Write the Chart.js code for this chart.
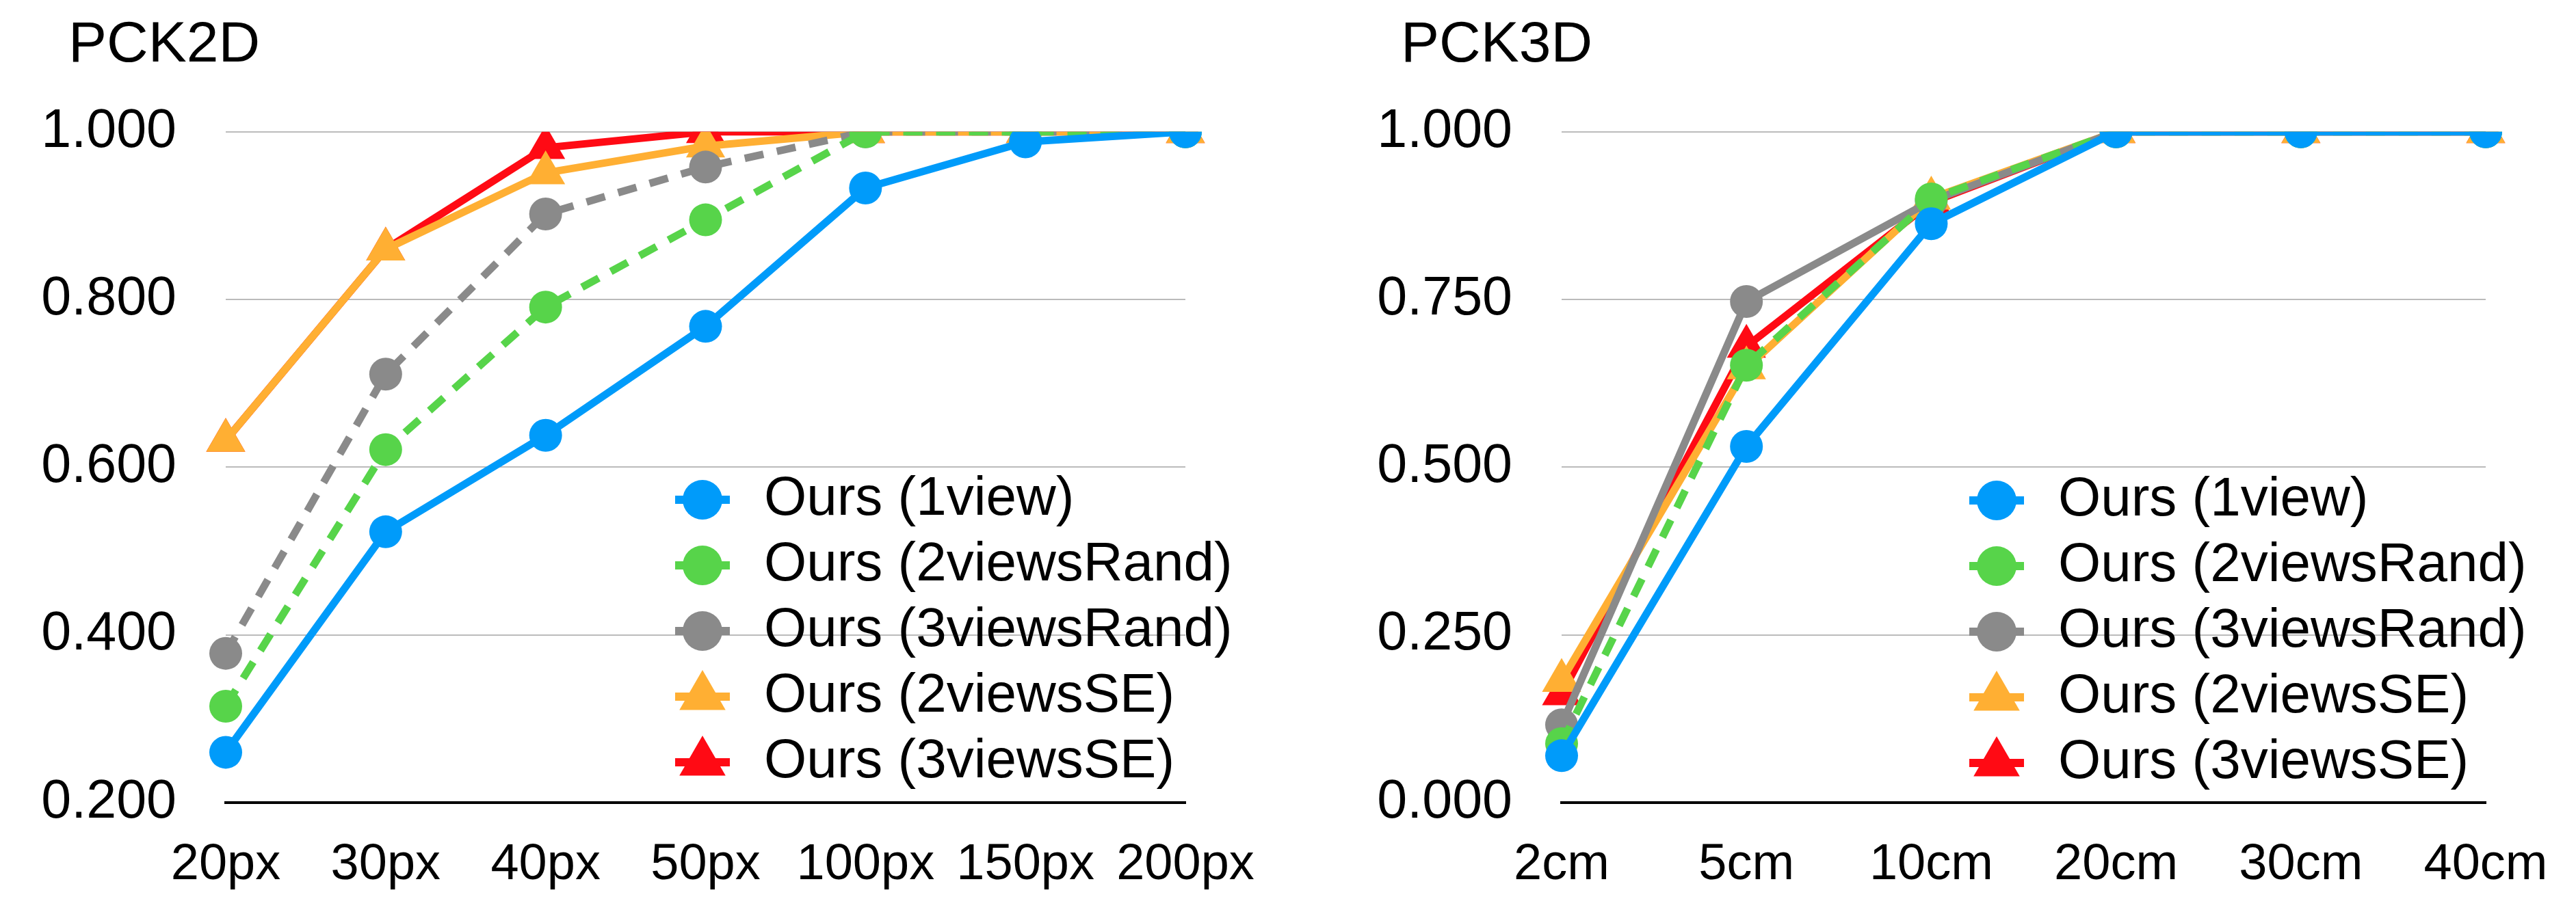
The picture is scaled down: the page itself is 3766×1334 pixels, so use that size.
<!DOCTYPE html>
<html>
<head>
<meta charset="utf-8">
<title>PCK2D / PCK3D</title>
<script src="https://cdn.jsdelivr.net/npm/chart.js@4.4.1/dist/chart.umd.min.js"></script>
<style>
  html, body { margin: 0; padding: 0; background: #fff; }
  #wrap { position: relative; width: 3766px; height: 1334px; }
  canvas { position: absolute; top: 0; }
  #pck2d { left: 0; }
  #pck3d { left: 1880px; }
</style>
</head>
<body>
<div id="wrap">
  <canvas id="pck2d" width="1880" height="1334"></canvas>
  <canvas id="pck3d" width="1886" height="1334"></canvas>
</div>
<script>
// categories
const pxLabels = ['20px', '30px', '40px', '50px', '100px', '150px', '200px'];
const cmLabels = ['2cm', '5cm', '10cm', '20cm', '30cm', '40cm'];

const seriesNames = ['Ours (1view)', 'Ours (2viewsRand)', 'Ours (3viewsRand)', 'Ours (2viewsSE)', 'Ours (3viewsSE)'];

// PCK2D values
const pck2d1view = [0.260, 0.523, 0.638, 0.768, 0.933, 0.988, 1.000];
const pck2d2Rand = [0.315, 0.621, 0.791, 0.895, 1.000, 1.000, 1.000];
const pck2d3Rand = [0.378, 0.711, 0.902, 0.958, 1.000, 1.000, 1.000];
const pck2d2SE   = [0.632, 0.860, 0.951, 0.983, 1.000, 1.000, 1.000];
const pck2d3SE   = [0.632, 0.860, 0.981, 1.000, 1.000, 1.000, 1.000];

// PCK3D values
const pck3d1view = [0.070, 0.531, 0.863, 1.000, 1.000, 1.000];
const pck3d2Rand = [0.088, 0.652, 0.900, 1.000, 1.000, 1.000];
const pck3d3Rand = [0.116, 0.747, 0.897, 1.000, 1.000, 1.000];
const pck3d2SE   = [0.182, 0.648, 0.901, 1.000, 1.000, 1.000];
const pck3d3SE   = [0.162, 0.680, 0.895, 1.000, 1.000, 1.000];

// y tick values
const pck2dTicks = [0.2, 0.4, 0.6, 0.8, 1.0];
const pck3dTicks = [0.0, 0.25, 0.5, 0.75, 1.0];

// look of each series
const seriesColors = ['#009BFA', '#57D44A', '#8A8A8A', '#FFAF33', '#FF0A14'];
const seriesShapes = ['circle', 'circle', 'circle', 'triangle', 'triangle'];

Chart.defaults.font.family = "'Liberation Sans', Arial, Helvetica, sans-serif";
Chart.defaults.color = '#000';

function makeDataset(i, values, dashed) {
  const r = seriesShapes[i] === 'triangle' ? 33 : 24;
  return {
    label: seriesNames[i],
    data: values,
    borderColor: seriesColors[i],
    backgroundColor: seriesColors[i],
    pointBackgroundColor: seriesColors[i],
    borderWidth: 11,
    borderDash: dashed ? [28, 20] : [],
    borderCapStyle: 'butt',
    borderJoinStyle: 'round',
    pointStyle: seriesShapes[i],
    pointRadius: r,
    pointHoverRadius: r,
    pointBorderWidth: 0,
    tension: 0
  };
}

// small legend glyph: line stub with the marker on it
function legendIcon(i) {
  const c = document.createElement('canvas');
  c.width = 80;
  c.height = 80;
  const g = c.getContext('2d');
  g.fillStyle = seriesColors[i];
  g.fillRect(0, 34, 80, 12);
  g.beginPath();
  if (seriesShapes[i] === 'triangle') {
    const r = 39;
    for (let k = 0; k < 3; k++) {
      const a = k * 2 * Math.PI / 3;
      const px = 40 + Math.sin(a) * r, py = 40 - Math.cos(a) * r;
      if (k === 0) g.moveTo(px, py); else g.lineTo(px, py);
    }
    g.closePath();
  } else {
    g.arc(40, 40, 29, 0, 2 * Math.PI);
  }
  g.fill();
  return c;
}
const legendIcons = seriesNames.map((n, i) => legendIcon(i));

// moves the legend box inside the plot and nudges the title after layout
const boxSpot = {
  id: 'boxSpot',
  afterLayout(chart, args, opts) {
    const lg = chart.legend;
    if (lg) {
      const w = lg.width, h = lg.height;
      lg.left = opts.left;
      lg.top = opts.top;
      lg.right = opts.left + w;
      lg.bottom = opts.top + h;
    }
    const tb = chart.titleBlock;
    if (tb) {
      const dx = opts.titleLeft - tb.left;
      tb.left += dx;
      tb.right += dx;
    }
  }
};

function makeChart(canvasId, title, labels, datasets, ticks, pad, axisWidth, spot) {
  const yMin = ticks[0];
  return new Chart(document.getElementById(canvasId), {
    type: 'line',
    data: { labels: labels, datasets: datasets },
    plugins: [boxSpot],
    options: {
      responsive: false,
      animation: false,
      events: [],
      layout: { padding: pad },
      scales: {
        x: {
          offset: false,
          grid: { display: false },
          border: { display: true, color: '#000', width: 4 },
          ticks: { color: '#000', font: { size: 74 }, padding: 39, maxRotation: 0, autoSkip: false },
          afterFit: s => { s.height = 160; }
        },
        y: {
          min: yMin,
          max: ticks[ticks.length - 1],
          grid: {
            drawTicks: false,
            lineWidth: 2,
            color: c => (c.tick && c.tick.value === yMin) ? 'rgba(0,0,0,0)' : '#BBBBBB'
          },
          border: { display: false },
          ticks: { color: '#000', font: { size: 79 }, padding: 72, callback: v => Number(v).toFixed(3) },
          afterBuildTicks: s => { s.ticks = ticks.map(v => ({ value: v })); },
          afterFit: s => { s.width = axisWidth; }
        }
      },
      plugins: {
        title: {
          display: true,
          text: title,
          align: 'start',
          color: '#000',
          font: { size: 84, weight: 'normal' },
          padding: { top: 16, bottom: 76 }
        },
        legend: {
          position: 'chartArea',
          align: 'start',
          labels: {
            usePointStyle: true,
            pointStyleWidth: 100,
            padding: 16,
            color: '#000',
            font: { size: 80 },
            generateLabels(chart) {
              const items = Chart.defaults.plugins.legend.labels.generateLabels(chart);
              items.forEach((it, k) => { it.pointStyle = legendIcons[k]; it.fontColor = '#000'; });
              return items;
            }
          }
        },
        boxSpot: spot,
        tooltip: { enabled: false }
      }
    }
  });
}

makeChart('pck2d', 'PCK2D', pxLabels, [
  makeDataset(0, pck2d1view, false),
  makeDataset(1, pck2d2Rand, true),
  makeDataset(2, pck2d3Rand, true),
  makeDataset(3, pck2d2SE, false),
  makeDataset(4, pck2d3SE, false)
], pck2dTicks, { left: 30, right: 147, top: 0, bottom: 0 }, 300, { left: 961, top: 675, titleLeft: 100 });

makeChart('pck3d', 'PCK3D', cmLabels, [
  makeDataset(0, pck3d1view, false),
  makeDataset(1, pck3d2Rand, true),
  makeDataset(2, pck3d3Rand, false),
  makeDataset(3, pck3d2SE, false),
  makeDataset(4, pck3d3SE, false)
], pck3dTicks, { left: 90, right: 132, top: 0, bottom: 0 }, 313, { left: 973, top: 676, titleLeft: 168 });
</script>
</body>
</html>
